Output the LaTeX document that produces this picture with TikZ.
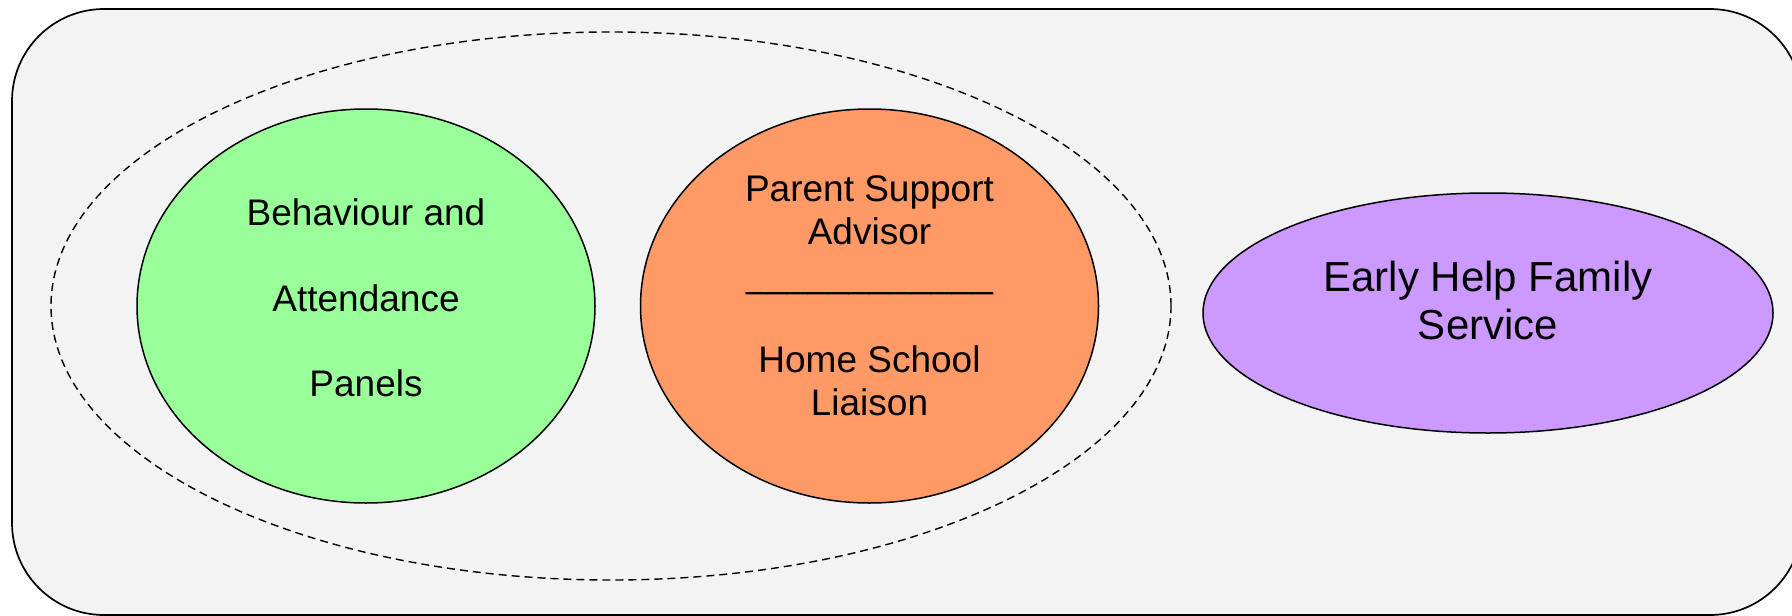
\documentclass[tikz,border=0pt]{standalone}
\usepackage{fontspec}
\setmainfont{Liberation Sans}
\usetikzlibrary{shapes.geometric}
\definecolor{panelgrey}{HTML}{F3F3F3}
\definecolor{bapgreen}{HTML}{99FF99}
\definecolor{psaorange}{HTML}{FF9966}
\definecolor{ehpurple}{HTML}{CC99FF}

\begin{document}
\begin{tikzpicture}[x=1pt, y=-1pt, node distance=503.5pt]
	\tikzstyle{every node}=[inner sep=0pt, outer sep=0pt]
	\tikzstyle{service}=[ellipse, draw, line width=1.5pt, minimum width=458pt, minimum height=394pt]
	\tikzstyle{group}=[ellipse, draw, dashed, dash pattern=on 8pt off 5pt, line width=1.4pt, minimum width=1120pt, minimum height=548pt]
	\tikzstyle{caption}=[align=center, font=\fontsize{37}{42.8}\selectfont]
	\useasboundingbox (0,0) rectangle (1792,616);
	%Background panel
	\draw[line width=1.7pt, fill=panelgrey, rounded corners=92pt] (12,9) rectangle (1802,615);
	%School based services
	\node[group](school) at (611,306){};
	\node[service, fill=bapgreen](bap) at (366,306){};
	\node[service, fill=psaorange](psa)[right of = bap]{};
	%Outside service
	\node[service, fill=ehpurple, minimum width=570pt, minimum height=240pt](ehfs) at (1488,313){};
	%Labels
	\node[caption, font=\fontsize{37}{85.5}\selectfont, yshift=8pt](bapText) at (bap){Behaviour and\\Attendance\\Panels};
	\node[caption, yshift=10pt](psaText) at (psa){Parent Support\\Advisor\\\_\_\_\_\_\_\_\_\_\_\_\_\\[42.8pt]Home School\\Liaison};
	\node[caption, font=\fontsize{42}{48.5}\selectfont, yshift=12.6pt](ehfsText) at (ehfs){Early Help Family\\Service};
\end{tikzpicture}
\end{document}
